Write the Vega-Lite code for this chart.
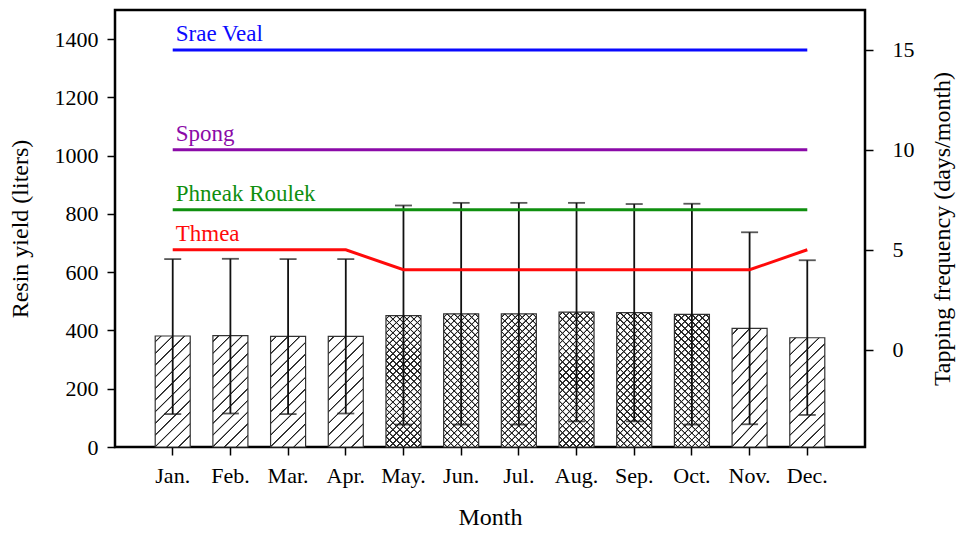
{
  "$schema": "https://vega.github.io/schema/vega-lite/v6.json",
  "width": 750,
  "height": 437,
  "autosize": {"type": "none"},
  "padding": {"left": 115, "top": 10, "right": 91, "bottom": 86},
  "background": "white",
  "config": {
    "font": "Liberation Serif",
    "view": {"stroke": "#000", "strokeWidth": 2.5},
    "axis": {
      "labelFont": "Liberation Serif", "titleFont": "Liberation Serif",
      "labelFontSize": 22, "titleFontSize": 24, "titleFontWeight": "normal",
      "labelColor": "#000", "titleColor": "#000",
      "domainColor": "#000", "domainWidth": 2.5,
      "tickColor": "#000", "tickWidth": 1.5, "tickSize": 8,
      "grid": false
    }
  },
  "datasets": {
    "bars": [
      {"month": "Jan.", "yield": 381, "lo": 113, "hi": 645, "season": "dry"},
      {"month": "Feb.", "yield": 382, "lo": 115, "hi": 646, "season": "dry"},
      {"month": "Mar.", "yield": 380, "lo": 113, "hi": 645, "season": "dry"},
      {"month": "Apr.", "yield": 380, "lo": 115, "hi": 645, "season": "dry"},
      {"month": "May.", "yield": 451, "lo": 77, "hi": 829, "season": "wet"},
      {"month": "Jun.", "yield": 457, "lo": 77, "hi": 838, "season": "wet"},
      {"month": "Jul.", "yield": 457, "lo": 77, "hi": 838, "season": "wet"},
      {"month": "Aug.", "yield": 463, "lo": 88, "hi": 838, "season": "wet"},
      {"month": "Sep.", "yield": 461, "lo": 88, "hi": 834, "season": "wet"},
      {"month": "Oct.", "yield": 455, "lo": 77, "hi": 835, "season": "wet"},
      {"month": "Nov.", "yield": 407, "lo": 78, "hi": 737, "season": "dry"},
      {"month": "Dec.", "yield": 375, "lo": 110, "hi": 641, "season": "dry"}
    ],
    "freq": [
      {"series": "Srae Veal", "month": "Jan.", "m": 1, "freq": 15},
      {"series": "Srae Veal", "month": "Feb.", "m": 2, "freq": 15},
      {"series": "Srae Veal", "month": "Mar.", "m": 3, "freq": 15},
      {"series": "Srae Veal", "month": "Apr.", "m": 4, "freq": 15},
      {"series": "Srae Veal", "month": "May.", "m": 5, "freq": 15},
      {"series": "Srae Veal", "month": "Jun.", "m": 6, "freq": 15},
      {"series": "Srae Veal", "month": "Jul.", "m": 7, "freq": 15},
      {"series": "Srae Veal", "month": "Aug.", "m": 8, "freq": 15},
      {"series": "Srae Veal", "month": "Sep.", "m": 9, "freq": 15},
      {"series": "Srae Veal", "month": "Oct.", "m": 10, "freq": 15},
      {"series": "Srae Veal", "month": "Nov.", "m": 11, "freq": 15},
      {"series": "Srae Veal", "month": "Dec.", "m": 12, "freq": 15},
      {"series": "Spong", "month": "Jan.", "m": 1, "freq": 10},
      {"series": "Spong", "month": "Feb.", "m": 2, "freq": 10},
      {"series": "Spong", "month": "Mar.", "m": 3, "freq": 10},
      {"series": "Spong", "month": "Apr.", "m": 4, "freq": 10},
      {"series": "Spong", "month": "May.", "m": 5, "freq": 10},
      {"series": "Spong", "month": "Jun.", "m": 6, "freq": 10},
      {"series": "Spong", "month": "Jul.", "m": 7, "freq": 10},
      {"series": "Spong", "month": "Aug.", "m": 8, "freq": 10},
      {"series": "Spong", "month": "Sep.", "m": 9, "freq": 10},
      {"series": "Spong", "month": "Oct.", "m": 10, "freq": 10},
      {"series": "Spong", "month": "Nov.", "m": 11, "freq": 10},
      {"series": "Spong", "month": "Dec.", "m": 12, "freq": 10},
      {"series": "Phneak Roulek", "month": "Jan.", "m": 1, "freq": 7},
      {"series": "Phneak Roulek", "month": "Feb.", "m": 2, "freq": 7},
      {"series": "Phneak Roulek", "month": "Mar.", "m": 3, "freq": 7},
      {"series": "Phneak Roulek", "month": "Apr.", "m": 4, "freq": 7},
      {"series": "Phneak Roulek", "month": "May.", "m": 5, "freq": 7},
      {"series": "Phneak Roulek", "month": "Jun.", "m": 6, "freq": 7},
      {"series": "Phneak Roulek", "month": "Jul.", "m": 7, "freq": 7},
      {"series": "Phneak Roulek", "month": "Aug.", "m": 8, "freq": 7},
      {"series": "Phneak Roulek", "month": "Sep.", "m": 9, "freq": 7},
      {"series": "Phneak Roulek", "month": "Oct.", "m": 10, "freq": 7},
      {"series": "Phneak Roulek", "month": "Nov.", "m": 11, "freq": 7},
      {"series": "Phneak Roulek", "month": "Dec.", "m": 12, "freq": 7},
      {"series": "Thmea", "month": "Jan.", "m": 1, "freq": 5},
      {"series": "Thmea", "month": "Feb.", "m": 2, "freq": 5},
      {"series": "Thmea", "month": "Mar.", "m": 3, "freq": 5},
      {"series": "Thmea", "month": "Apr.", "m": 4, "freq": 5},
      {"series": "Thmea", "month": "May.", "m": 5, "freq": 4},
      {"series": "Thmea", "month": "Jun.", "m": 6, "freq": 4},
      {"series": "Thmea", "month": "Jul.", "m": 7, "freq": 4},
      {"series": "Thmea", "month": "Aug.", "m": 8, "freq": 4},
      {"series": "Thmea", "month": "Sep.", "m": 9, "freq": 4},
      {"series": "Thmea", "month": "Oct.", "m": 10, "freq": 4},
      {"series": "Thmea", "month": "Nov.", "m": 11, "freq": 4},
      {"series": "Thmea", "month": "Dec.", "m": 12, "freq": 5}
    ]
  },
  "layer": [
    {
      "data": {"name": "bars"},
      "layer": [
        {
          "transform": [{"filter": "datum.season == 'dry'"}],
          "mark": {
            "type": "bar", "stroke": "#333", "strokeWidth": 1.2,
            "fill": {
              "gradient": "linear", "x1": 0, "y1": 0, "x2": 0.374, "y2": 1.196,
              "stops": [
                {"offset": 0, "color": "#fff"},
                {"offset": 0.032, "color": "#fff"}, {"offset": 0.037, "color": "#222"}, {"offset": 0.043, "color": "#222"}, {"offset": 0.048, "color": "#fff"},
                {"offset": 0.112, "color": "#fff"}, {"offset": 0.117, "color": "#222"}, {"offset": 0.123, "color": "#222"}, {"offset": 0.128, "color": "#fff"},
                {"offset": 0.192, "color": "#fff"}, {"offset": 0.197, "color": "#222"}, {"offset": 0.203, "color": "#222"}, {"offset": 0.208, "color": "#fff"},
                {"offset": 0.272, "color": "#fff"}, {"offset": 0.277, "color": "#222"}, {"offset": 0.283, "color": "#222"}, {"offset": 0.288, "color": "#fff"},
                {"offset": 0.352, "color": "#fff"}, {"offset": 0.357, "color": "#222"}, {"offset": 0.363, "color": "#222"}, {"offset": 0.368, "color": "#fff"},
                {"offset": 0.432, "color": "#fff"}, {"offset": 0.437, "color": "#222"}, {"offset": 0.443, "color": "#222"}, {"offset": 0.448, "color": "#fff"},
                {"offset": 0.512, "color": "#fff"}, {"offset": 0.517, "color": "#222"}, {"offset": 0.523, "color": "#222"}, {"offset": 0.528, "color": "#fff"},
                {"offset": 0.592, "color": "#fff"}, {"offset": 0.597, "color": "#222"}, {"offset": 0.603, "color": "#222"}, {"offset": 0.608, "color": "#fff"},
                {"offset": 0.672, "color": "#fff"}, {"offset": 0.677, "color": "#222"}, {"offset": 0.683, "color": "#222"}, {"offset": 0.688, "color": "#fff"},
                {"offset": 0.752, "color": "#fff"}, {"offset": 0.757, "color": "#222"}, {"offset": 0.763, "color": "#222"}, {"offset": 0.768, "color": "#fff"},
                {"offset": 0.832, "color": "#fff"}, {"offset": 0.837, "color": "#222"}, {"offset": 0.843, "color": "#222"}, {"offset": 0.848, "color": "#fff"},
                {"offset": 0.912, "color": "#fff"}, {"offset": 0.917, "color": "#222"}, {"offset": 0.923, "color": "#222"}, {"offset": 0.928, "color": "#fff"},
                {"offset": 1, "color": "#fff"}
              ]
            }
          },
          "encoding": {
            "x": {
              "field": "month", "type": "ordinal",
              "scale": {"domain": ["Jan.", "Feb.", "Mar.", "Apr.", "May.", "Jun.", "Jul.", "Aug.", "Sep.", "Oct.", "Nov.", "Dec."], "paddingInner": 0.393, "paddingOuter": 0.697},
              "axis": {"title": "Month", "labelAngle": 0, "labelPadding": 10, "titlePadding": 19, "domain": false}
            },
            "y": {
              "field": "yield", "type": "quantitative",
              "scale": {"domain": [0, 1500], "nice": false, "zero": true},
              "axis": {"title": "Resin yield (liters)", "values": [0, 200, 400, 600, 800, 1000, 1200, 1400], "format": "d", "labelPadding": 9, "titlePadding": 22, "domain": false}
            }
          }
        },
        {
          "transform": [{"filter": "datum.season == 'wet'"}],
          "mark": {
            "type": "bar", "stroke": "#333", "strokeWidth": 1.2,
            "fill": {
              "gradient": "linear", "x1": 0, "y1": 0, "x2": 0.311, "y2": 1.181,
              "stops": [
                {"offset": 0, "color": "#fff"},
                {"offset": 0.0143, "color": "#fff"}, {"offset": 0.0178, "color": "#222"}, {"offset": 0.0238, "color": "#222"}, {"offset": 0.0273, "color": "#fff"},
                {"offset": 0.056, "color": "#fff"}, {"offset": 0.0595, "color": "#222"}, {"offset": 0.0655, "color": "#222"}, {"offset": 0.069, "color": "#fff"},
                {"offset": 0.0977, "color": "#fff"}, {"offset": 0.1012, "color": "#222"}, {"offset": 0.1072, "color": "#222"}, {"offset": 0.1107, "color": "#fff"},
                {"offset": 0.1393, "color": "#fff"}, {"offset": 0.1428, "color": "#222"}, {"offset": 0.1488, "color": "#222"}, {"offset": 0.1523, "color": "#fff"},
                {"offset": 0.181, "color": "#fff"}, {"offset": 0.1845, "color": "#222"}, {"offset": 0.1905, "color": "#222"}, {"offset": 0.194, "color": "#fff"},
                {"offset": 0.2227, "color": "#fff"}, {"offset": 0.2262, "color": "#222"}, {"offset": 0.2322, "color": "#222"}, {"offset": 0.2357, "color": "#fff"},
                {"offset": 0.2643, "color": "#fff"}, {"offset": 0.2678, "color": "#222"}, {"offset": 0.2738, "color": "#222"}, {"offset": 0.2773, "color": "#fff"},
                {"offset": 0.306, "color": "#fff"}, {"offset": 0.3095, "color": "#222"}, {"offset": 0.3155, "color": "#222"}, {"offset": 0.319, "color": "#fff"},
                {"offset": 0.3477, "color": "#fff"}, {"offset": 0.3512, "color": "#222"}, {"offset": 0.3572, "color": "#222"}, {"offset": 0.3607, "color": "#fff"},
                {"offset": 0.3893, "color": "#fff"}, {"offset": 0.3928, "color": "#222"}, {"offset": 0.3988, "color": "#222"}, {"offset": 0.4023, "color": "#fff"},
                {"offset": 0.431, "color": "#fff"}, {"offset": 0.4345, "color": "#222"}, {"offset": 0.4405, "color": "#222"}, {"offset": 0.444, "color": "#fff"},
                {"offset": 0.4727, "color": "#fff"}, {"offset": 0.4762, "color": "#222"}, {"offset": 0.4822, "color": "#222"}, {"offset": 0.4857, "color": "#fff"},
                {"offset": 0.5143, "color": "#fff"}, {"offset": 0.5178, "color": "#222"}, {"offset": 0.5238, "color": "#222"}, {"offset": 0.5273, "color": "#fff"},
                {"offset": 0.556, "color": "#fff"}, {"offset": 0.5595, "color": "#222"}, {"offset": 0.5655, "color": "#222"}, {"offset": 0.569, "color": "#fff"},
                {"offset": 0.5977, "color": "#fff"}, {"offset": 0.6012, "color": "#222"}, {"offset": 0.6072, "color": "#222"}, {"offset": 0.6107, "color": "#fff"},
                {"offset": 0.6393, "color": "#fff"}, {"offset": 0.6428, "color": "#222"}, {"offset": 0.6488, "color": "#222"}, {"offset": 0.6523, "color": "#fff"},
                {"offset": 0.681, "color": "#fff"}, {"offset": 0.6845, "color": "#222"}, {"offset": 0.6905, "color": "#222"}, {"offset": 0.694, "color": "#fff"},
                {"offset": 0.7227, "color": "#fff"}, {"offset": 0.7262, "color": "#222"}, {"offset": 0.7322, "color": "#222"}, {"offset": 0.7357, "color": "#fff"},
                {"offset": 0.7643, "color": "#fff"}, {"offset": 0.7678, "color": "#222"}, {"offset": 0.7738, "color": "#222"}, {"offset": 0.7773, "color": "#fff"},
                {"offset": 0.806, "color": "#fff"}, {"offset": 0.8095, "color": "#222"}, {"offset": 0.8155, "color": "#222"}, {"offset": 0.819, "color": "#fff"},
                {"offset": 0.8477, "color": "#fff"}, {"offset": 0.8512, "color": "#222"}, {"offset": 0.8572, "color": "#222"}, {"offset": 0.8607, "color": "#fff"},
                {"offset": 0.8893, "color": "#fff"}, {"offset": 0.8928, "color": "#222"}, {"offset": 0.8988, "color": "#222"}, {"offset": 0.9023, "color": "#fff"},
                {"offset": 0.931, "color": "#fff"}, {"offset": 0.9345, "color": "#222"}, {"offset": 0.9405, "color": "#222"}, {"offset": 0.944, "color": "#fff"},
                {"offset": 0.9727, "color": "#fff"}, {"offset": 0.9762, "color": "#222"}, {"offset": 0.9822, "color": "#222"}, {"offset": 0.9857, "color": "#fff"},
                {"offset": 1, "color": "#fff"}
              ]
            }
          },
          "encoding": {
            "x": {"field": "month", "type": "ordinal"},
            "y": {"field": "yield", "type": "quantitative", "title": "Resin yield (liters)"}
          }
        },
        {
          "transform": [{"filter": "datum.season == 'wet'"}],
          "mark": {
            "type": "bar", "strokeWidth": 0,
            "fill": {
              "gradient": "linear", "x1": 0, "y1": 1, "x2": 0.311, "y2": -0.181,
              "stops": [
                {"offset": 0, "color": "rgba(34,34,34,0)"},
                {"offset": 0.0143, "color": "rgba(34,34,34,0)"}, {"offset": 0.0178, "color": "#222"}, {"offset": 0.0238, "color": "#222"}, {"offset": 0.0273, "color": "rgba(34,34,34,0)"},
                {"offset": 0.056, "color": "rgba(34,34,34,0)"}, {"offset": 0.0595, "color": "#222"}, {"offset": 0.0655, "color": "#222"}, {"offset": 0.069, "color": "rgba(34,34,34,0)"},
                {"offset": 0.0977, "color": "rgba(34,34,34,0)"}, {"offset": 0.1012, "color": "#222"}, {"offset": 0.1072, "color": "#222"}, {"offset": 0.1107, "color": "rgba(34,34,34,0)"},
                {"offset": 0.1393, "color": "rgba(34,34,34,0)"}, {"offset": 0.1428, "color": "#222"}, {"offset": 0.1488, "color": "#222"}, {"offset": 0.1523, "color": "rgba(34,34,34,0)"},
                {"offset": 0.181, "color": "rgba(34,34,34,0)"}, {"offset": 0.1845, "color": "#222"}, {"offset": 0.1905, "color": "#222"}, {"offset": 0.194, "color": "rgba(34,34,34,0)"},
                {"offset": 0.2227, "color": "rgba(34,34,34,0)"}, {"offset": 0.2262, "color": "#222"}, {"offset": 0.2322, "color": "#222"}, {"offset": 0.2357, "color": "rgba(34,34,34,0)"},
                {"offset": 0.2643, "color": "rgba(34,34,34,0)"}, {"offset": 0.2678, "color": "#222"}, {"offset": 0.2738, "color": "#222"}, {"offset": 0.2773, "color": "rgba(34,34,34,0)"},
                {"offset": 0.306, "color": "rgba(34,34,34,0)"}, {"offset": 0.3095, "color": "#222"}, {"offset": 0.3155, "color": "#222"}, {"offset": 0.319, "color": "rgba(34,34,34,0)"},
                {"offset": 0.3477, "color": "rgba(34,34,34,0)"}, {"offset": 0.3512, "color": "#222"}, {"offset": 0.3572, "color": "#222"}, {"offset": 0.3607, "color": "rgba(34,34,34,0)"},
                {"offset": 0.3893, "color": "rgba(34,34,34,0)"}, {"offset": 0.3928, "color": "#222"}, {"offset": 0.3988, "color": "#222"}, {"offset": 0.4023, "color": "rgba(34,34,34,0)"},
                {"offset": 0.431, "color": "rgba(34,34,34,0)"}, {"offset": 0.4345, "color": "#222"}, {"offset": 0.4405, "color": "#222"}, {"offset": 0.444, "color": "rgba(34,34,34,0)"},
                {"offset": 0.4727, "color": "rgba(34,34,34,0)"}, {"offset": 0.4762, "color": "#222"}, {"offset": 0.4822, "color": "#222"}, {"offset": 0.4857, "color": "rgba(34,34,34,0)"},
                {"offset": 0.5143, "color": "rgba(34,34,34,0)"}, {"offset": 0.5178, "color": "#222"}, {"offset": 0.5238, "color": "#222"}, {"offset": 0.5273, "color": "rgba(34,34,34,0)"},
                {"offset": 0.556, "color": "rgba(34,34,34,0)"}, {"offset": 0.5595, "color": "#222"}, {"offset": 0.5655, "color": "#222"}, {"offset": 0.569, "color": "rgba(34,34,34,0)"},
                {"offset": 0.5977, "color": "rgba(34,34,34,0)"}, {"offset": 0.6012, "color": "#222"}, {"offset": 0.6072, "color": "#222"}, {"offset": 0.6107, "color": "rgba(34,34,34,0)"},
                {"offset": 0.6393, "color": "rgba(34,34,34,0)"}, {"offset": 0.6428, "color": "#222"}, {"offset": 0.6488, "color": "#222"}, {"offset": 0.6523, "color": "rgba(34,34,34,0)"},
                {"offset": 0.681, "color": "rgba(34,34,34,0)"}, {"offset": 0.6845, "color": "#222"}, {"offset": 0.6905, "color": "#222"}, {"offset": 0.694, "color": "rgba(34,34,34,0)"},
                {"offset": 0.7227, "color": "rgba(34,34,34,0)"}, {"offset": 0.7262, "color": "#222"}, {"offset": 0.7322, "color": "#222"}, {"offset": 0.7357, "color": "rgba(34,34,34,0)"},
                {"offset": 0.7643, "color": "rgba(34,34,34,0)"}, {"offset": 0.7678, "color": "#222"}, {"offset": 0.7738, "color": "#222"}, {"offset": 0.7773, "color": "rgba(34,34,34,0)"},
                {"offset": 0.806, "color": "rgba(34,34,34,0)"}, {"offset": 0.8095, "color": "#222"}, {"offset": 0.8155, "color": "#222"}, {"offset": 0.819, "color": "rgba(34,34,34,0)"},
                {"offset": 0.8477, "color": "rgba(34,34,34,0)"}, {"offset": 0.8512, "color": "#222"}, {"offset": 0.8572, "color": "#222"}, {"offset": 0.8607, "color": "rgba(34,34,34,0)"},
                {"offset": 0.8893, "color": "rgba(34,34,34,0)"}, {"offset": 0.8928, "color": "#222"}, {"offset": 0.8988, "color": "#222"}, {"offset": 0.9023, "color": "rgba(34,34,34,0)"},
                {"offset": 0.931, "color": "rgba(34,34,34,0)"}, {"offset": 0.9345, "color": "#222"}, {"offset": 0.9405, "color": "#222"}, {"offset": 0.944, "color": "rgba(34,34,34,0)"},
                {"offset": 0.9727, "color": "rgba(34,34,34,0)"}, {"offset": 0.9762, "color": "#222"}, {"offset": 0.9822, "color": "#222"}, {"offset": 0.9857, "color": "rgba(34,34,34,0)"},
                {"offset": 1, "color": "rgba(34,34,34,0)"}
              ]
            }
          },
          "encoding": {
            "x": {"field": "month", "type": "ordinal"},
            "y": {"field": "yield", "type": "quantitative", "title": "Resin yield (liters)"}
          }
        },
        {
          "mark": {"type": "rule", "color": "#111", "strokeWidth": 1.8},
          "encoding": {
            "x": {"field": "month", "type": "ordinal"},
            "y": {"field": "lo", "type": "quantitative", "title": "Resin yield (liters)"},
            "y2": {"field": "hi"}
          }
        },
        {
          "mark": {"type": "tick", "color": "#111", "size": 17, "thickness": 1.8},
          "encoding": {
            "x": {"field": "month", "type": "ordinal"},
            "y": {"field": "lo", "type": "quantitative", "title": "Resin yield (liters)"}
          }
        },
        {
          "mark": {"type": "tick", "color": "#111", "size": 17, "thickness": 1.8},
          "encoding": {
            "x": {"field": "month", "type": "ordinal"},
            "y": {"field": "hi", "type": "quantitative", "title": "Resin yield (liters)"}
          }
        }
      ]
    },
    {
      "data": {"name": "freq"},
      "layer": [
        {
          "mark": {"type": "line", "strokeWidth": 3, "strokeCap": "butt"},
          "encoding": {
            "x": {"field": "month", "type": "ordinal"},
            "y": {
              "field": "freq", "type": "quantitative",
              "scale": {"domain": [-4.87, 17], "nice": false, "zero": false},
              "axis": {"orient": "right", "title": "Tapping frequency (days/month)", "titleAngle": 270, "values": [0, 5, 10, 15], "labelPadding": 19, "titlePadding": 40, "domain": false}
            },
            "color": {
              "field": "series", "type": "nominal",
              "scale": {"domain": ["Srae Veal", "Spong", "Phneak Roulek", "Thmea"], "range": ["#0a0aff", "#8b0aa8", "#0f8f0f", "#ff0a0a"]},
              "legend": null
            },
            "order": {"field": "m", "type": "quantitative"}
          }
        },
        {
          "transform": [{"filter": "datum.month == 'Jan.'"}],
          "mark": {"type": "text", "align": "left", "baseline": "alphabetic", "dx": 3, "dy": -9, "fontSize": 23, "font": "Liberation Serif"},
          "encoding": {
            "x": {"field": "month", "type": "ordinal"},
            "y": {"field": "freq", "type": "quantitative", "title": "Tapping frequency (days/month)"},
            "text": {"field": "series"},
            "color": {"field": "series", "type": "nominal", "legend": null}
          }
        }
      ]
    }
  ],
  "resolve": {"scale": {"y": "independent"}}
}
